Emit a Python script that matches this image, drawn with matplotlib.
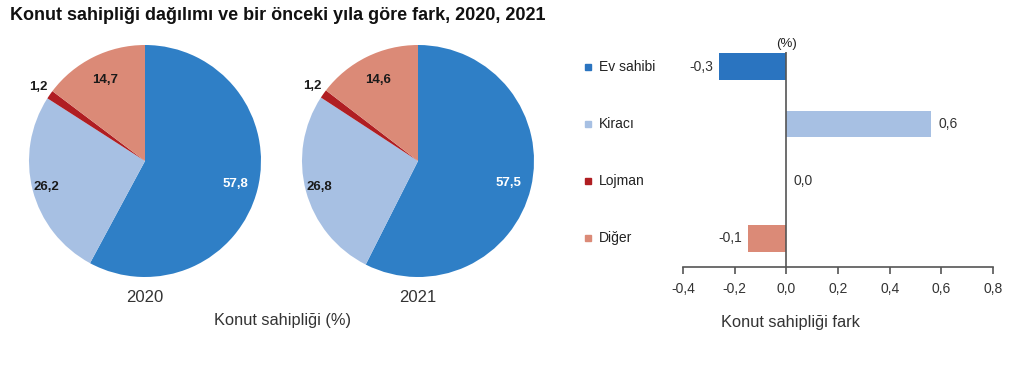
import numpy as np
import matplotlib.pyplot as plt
from matplotlib.transforms import blended_transform_factory
from matplotlib.ticker import FuncFormatter

plt.rcParams['font.family'] = ['Liberation Sans', 'DejaVu Sans']

# data
categories = ['Ev sahibi', 'Kiracı', 'Lojman', 'Diğer']
share_2020 = [57.8, 26.2, 1.2, 14.7]
share_2021 = [57.5, 26.8, 1.2, 14.6]
diff_values = [-0.26, 0.56, 0.0, -0.15]     # bar lengths as drawn
diff_labels = ['-0,3', '0,6', '0,0', '-0,1']  # printed labels
years = ['2020', '2021']

pie_colors = ['#2f7fc6', '#a7c0e3', '#b01e22', '#db8a77']
bar_colors = ['#2a74c0', '#a7c0e3', '#b01e22', '#db8a77']
label_r = [0.8, 0.88, 1.12, 0.78]
label_col = ['white', '#1a1a1a', '#1a1a1a', '#1a1a1a']

W, H = 1024, 373
fig = plt.figure(figsize=(W / 100, H / 100), dpi=100)

fig.text(10 / W, 1 - 16 / H, 'Konut sahipliği dağılımı ve bir önceki yıla göre fark, 2020, 2021',
         fontsize=13, fontweight='bold', va='center', ha='left', color='#111111')


def fmt(v):
    return f'{v:.1f}'.replace('.', ',')


# pies
for cx, year, vals in [(145, years[0], share_2020), (418, years[1], share_2021)]:
    r = 116
    ax = fig.add_axes([(cx - r) / W, (H - 161 - r) / H, 2 * r / W, 2 * r / H])
    wedges, _ = ax.pie(vals, colors=pie_colors, startangle=90, counterclock=False,
                       wedgeprops=dict(linewidth=0))
    ax.set_xlim(-1, 1)
    ax.set_ylim(-1, 1)
    ax.set_aspect('equal')
    for i, w in enumerate(wedges):
        ang = np.deg2rad((w.theta1 + w.theta2) / 2)
        ax.text(label_r[i] * np.cos(ang), label_r[i] * np.sin(ang), fmt(vals[i]),
                ha='center', va='center', fontsize=9.5, fontweight='bold', color=label_col[i])
    fig.text(cx / W, 1 - 298 / H, year, ha='center', va='center', fontsize=12, color='#333333')

fig.text(282 / W, 1 - 321 / H, 'Konut sahipliği (%)', ha='center', va='center',
         fontsize=11.8, color='#333333')

# bar chart of differences
bx = fig.add_axes([683 / W, (H - 267) / H, 310 / W, 215 / H])
y = np.arange(len(categories))
bx.barh(y, diff_values, height=0.47, color=bar_colors)
bx.set_xlim(-0.4, 0.8)
bx.set_ylim(3.5, -0.26)
bx.axvline(0, color='#555555', linewidth=1.2)
for s in ['top', 'right', 'left']:
    bx.spines[s].set_visible(False)
bx.spines['bottom'].set_color('#555555')
bx.spines['bottom'].set_linewidth(1.2)
bx.set_yticks([])
bx.set_xticks(np.arange(-0.4, 0.81, 0.2))
bx.xaxis.set_major_formatter(FuncFormatter(lambda v, p: fmt(v)))
bx.tick_params(axis='x', direction='out', length=5, width=1.2, color='#555555',
               labelsize=10, labelcolor='#333333', pad=6)

for i, (v, lab) in enumerate(zip(diff_values, diff_labels)):
    if v < 0:
        bx.text(v - 0.022, i, lab, ha='right', va='center', fontsize=10, color='#333333')
    else:
        bx.text(v + 0.028, i, lab, ha='left', va='center', fontsize=10, color='#333333')

# legend beside the bars
tr = blended_transform_factory(bx.transAxes, bx.transData)
for i, name in enumerate(categories):
    bx.plot(-0.307, i, marker='s', markersize=5, color=bar_colors[i], transform=tr, clip_on=False)
    bx.text(-0.27, i, name, transform=tr, ha='left', va='center', fontsize=10, color='#222222')

bx.text(0, -0.3, '(%)', ha='center', va='bottom', fontsize=9.5, color='#222222')
fig.text(790 / W, 1 - 323 / H, 'Konut sahipliği fark', ha='center', va='center',
         fontsize=11.8, color='#333333')

fig.savefig('out.png', dpi=100)
